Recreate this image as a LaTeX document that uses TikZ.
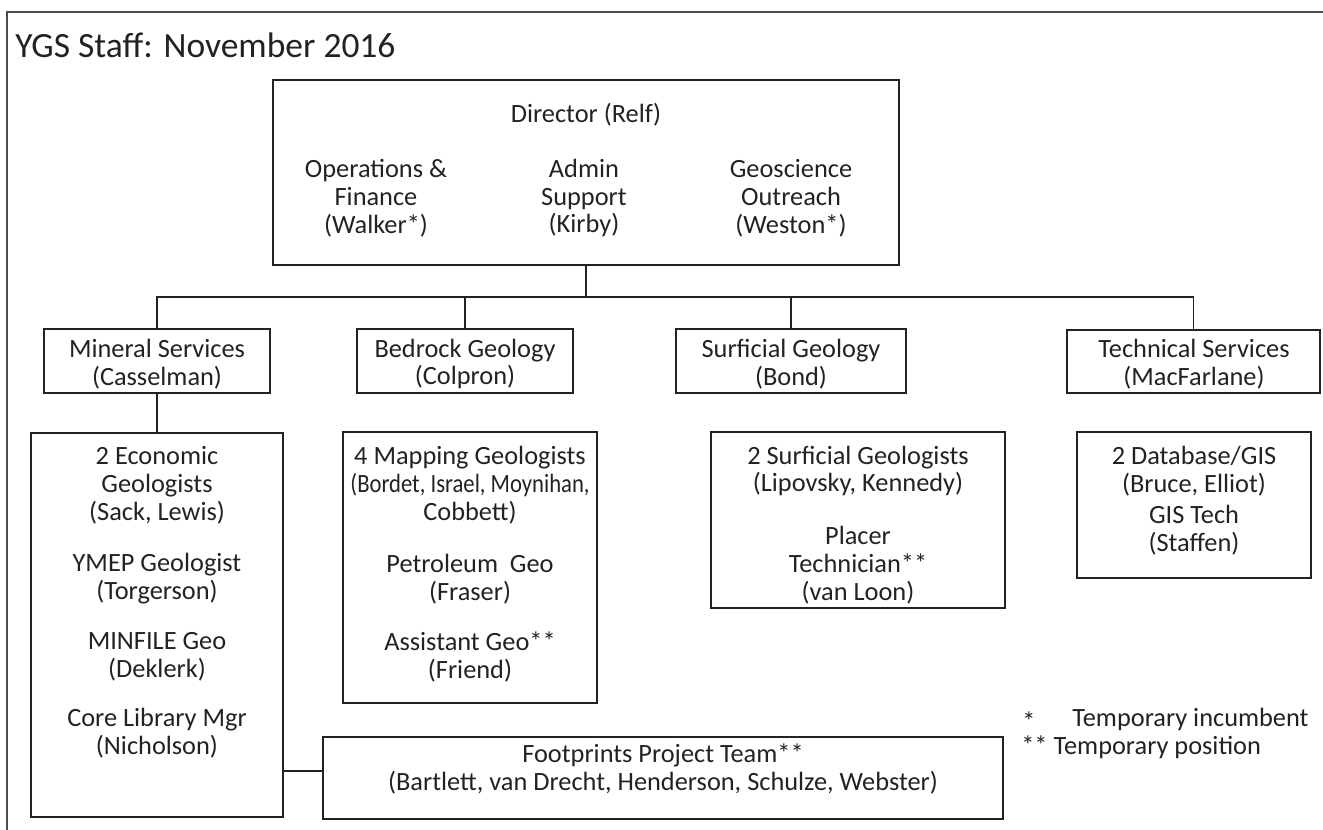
\documentclass[tikz,border=0pt]{standalone}
\usepackage{fontspec}
\setmainfont{Carlito}
\usetikzlibrary{fit}
\definecolor{ink}{HTML}{222222}
\tikzset{
  box/.style={draw=ink,line width=1.1pt,inner sep=0pt},
  lbl/.style={align=center,inner sep=0pt,text=ink,font=\fontsize{15}{15.9}\selectfont},
  frame/.style={draw=black!70,line width=0.6pt}
}
\begin{document}
\begin{tikzpicture}[x=0.02cm,y=-0.02cm]
\useasboundingbox (0,0) rectangle (1323,830);
\draw [frame] (7,830)--(7,12)--(1323,12);
\node [lbl,anchor=west,font=\fontsize{20.2}{22}\selectfont] (title) at (15,45) {YGS Staff: November 2016};
% director
\node [box,fit={(273,80) (899,265)}] (dir) {};
\node [lbl] (dirname) at (586,115) {Director (Relf)};
\node [lbl] (ops) at (376,198) {Operations \&\\Finance\\(Walker*)};
\node [lbl] (admin) at (584,198) {Admin\\Support\\(Kirby)};
\node [lbl] (outreach) at (791,198) {Geoscience\\Outreach\\(Weston*)};
% sections
\node [box,fit={(44,329) (270,393)}] (mineral) {};
\node [box,fit={(357,329) (573,393)}] (bedrock) {};
\node [box,fit={(676,329) (906,393)}] (surficial) {};
\node [box,fit={(1067,330) (1320,393)}] (tech) {};
\node [lbl] at (157,364) {Mineral Services\\(Casselman)};
\node [lbl] at (465,364) {Bedrock Geology\\(Colpron)};
\node [lbl] at (791,364) {Surficial Geology\\(Bond)};
\node [lbl] at (1194,364) {Technical Services\\(MacFarlane)};
\coordinate (bus) at (0,297);
\draw [box] (mineral.north)--(mineral.north |- bus)-|(tech.north);
\draw [box] (dir.south)--(dir.south |- bus);
\draw [box] (bedrock.north)--(bedrock.north |- bus);
\draw [box] (surficial.north)--(surficial.north |- bus);
% staff
\node [box,fit={(31,433) (283,817)}] (econ) {};
\node [lbl] at (157,485) {2 Economic\\Geologists\\(Sack, Lewis)};
\node [lbl] at (157,579) {YMEP Geologist\\(Torgerson)};
\node [lbl] at (157,657) {MINFILE Geo\\(Deklerk)};
\node [lbl] at (157,733) {Core Library Mgr\\(Nicholson)};
\draw [box] (mineral.south)--(econ.north);
\node [box,fit={(343,432) (597,703)}] (mapping) {};
\node [lbl] at (470,485) {4 Mapping Geologists\\{\addfontfeatures{FakeStretch=0.86}(Bordet, Israel, Moynihan,}\\Cobbett)};
\node [lbl] at (470,579) {Petroleum\ \ Geo\\(Fraser)};
\node [lbl] at (470,657) {Assistant Geo**\\(Friend)};
\node [box,fit={(711,432) (1005,608)}] (surfstaff) {};
\node [lbl] at (858,471) {2 Surficial Geologists\\(Lipovsky, Kennedy)};
\node [lbl] at (858,565) {Placer\\Technician**\\(van Loon)};
\node [box,fit={(1077,432) (1311,578)}] (gis) {};
\node [lbl] at (1194,471) {2 Database/GIS\\(Bruce, Elliot)};
\node [lbl] at (1194,530) {GIS Tech\\(Staffen)};
\node [box,fit={(323,737) (1003,819)}] (foot) {};
\node [lbl] at (663,769) {Footprints Project Team**\\(Bartlett, van Drecht, Henderson, Schulze, Webster)};
\draw [box] ([yshift=4pt]foot.west)--([yshift=4pt]foot.west -| econ.east);
% legend
\node [lbl,anchor=west] (star) at (1022,721) {*};
\node [lbl,anchor=west] (inc) at (1072,719) {Temporary incumbent};
\node [lbl,anchor=west] (pos) at (1021,747) {** Temporary position};
\end{tikzpicture}
\end{document}
